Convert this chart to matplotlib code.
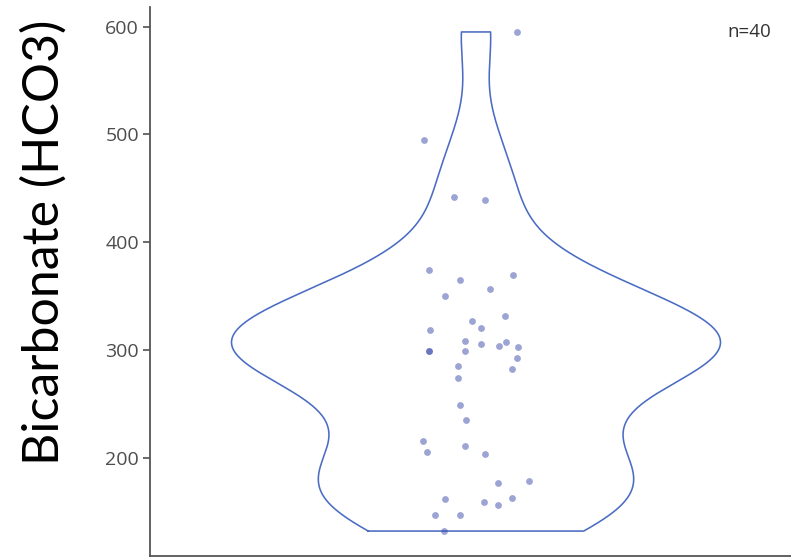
import numpy as np
import matplotlib
matplotlib.use("Agg")
import matplotlib.pyplot as plt

# Bicarbonate measurements (mg/L) and the horizontal jitter used for each point
hco3 = [595, 495, 442, 439, 374, 365, 370, 357, 350, 331.5,
        327, 321, 318.5, 309, 305.6, 307.4, 303.7, 302.8, 299, 299,
        299, 292.6, 285, 283, 274, 249, 235, 215.7, 205.6, 211,
        203.7, 177, 178.7, 162, 159, 163, 156.5, 147, 147, 132.4]
jitter = [0.075, -0.095, -0.040, 0.017, -0.087, -0.029, 0.069, 0.025, -0.057, 0.053,
          -0.007, 0.009, -0.084, -0.021, 0.009, 0.056, 0.043, 0.078, -0.087, -0.087,
          -0.021, 0.076, -0.034, 0.067, -0.034, -0.029, -0.019, -0.097, -0.091, -0.021,
          0.016, 0.040, 0.097, -0.057, 0.014, 0.066, 0.041, -0.076, -0.029, -0.059]
ylabel = "Bicarbonate (HCO3)"
yticks = [200, 300, 400, 500, 600]

vals = np.asarray(hco3, dtype=float)
n = len(vals)

# Gaussian KDE with R's default bandwidth (bw.nrd0), trimmed to the data range
q75, q25 = np.percentile(vals, [75, 25])
spread = min(vals.std(ddof=1), (q75 - q25) / 1.34)
bw = 0.9 * spread * n ** -0.2
grid = np.linspace(vals.min(), vals.max(), 512)
dens = np.exp(-0.5 * ((grid[:, None] - vals[None, :]) / bw) ** 2).sum(axis=1)
dens /= n * bw * np.sqrt(2 * np.pi)
half = 0.45 * dens / dens.max()

fig = plt.figure(figsize=(7.91, 5.58), dpi=100)
ax = fig.add_axes([150 / 791, 2 / 558, 652 / 791, 549 / 558])

center = 1.0
vx = np.concatenate([center - half, (center + half)[::-1], [center - half[0]]])
vy = np.concatenate([grid, grid[::-1], [grid[0]]])
ax.fill(vx, vy, color="white", zorder=1)
ax.plot(vx, vy, color="#4a6cc2", lw=1.15, zorder=2, solid_joinstyle="round")

ax.scatter(center + np.asarray(jitter), vals, s=24, color="#3a4aa8",
           alpha=0.5, linewidths=0, zorder=3)

ax.text(1.503, vals.max(), f"n={n}", ha="center", va="center",
        fontsize=13.5, color="#333333", family="Open Sans")

rng = vals.max() - vals.min()
ax.set_ylim(vals.min() - 0.05 * rng, vals.max() + 0.05 * rng)
ax.set_xlim(0.4, 1.6)
ax.set_yticks(yticks)
ax.set_xticks([])
for lab in ax.get_yticklabels():
    lab.set_fontfamily("Open Sans")
ax.tick_params(axis="y", length=5, width=1.1, color="#444444",
               labelsize=14, labelcolor="#4d4d4d", pad=3)

fig.text(44 / 791, 316 / 558, ylabel, rotation=90, ha="center", va="center",
         fontsize=36, family="Lato", color="black")

for side in ["top", "right"]:
    ax.spines[side].set_visible(False)
for side in ["left", "bottom"]:
    ax.spines[side].set_color("#555555")
    ax.spines[side].set_linewidth(1.3)

fig.savefig("out.png", dpi=100)
